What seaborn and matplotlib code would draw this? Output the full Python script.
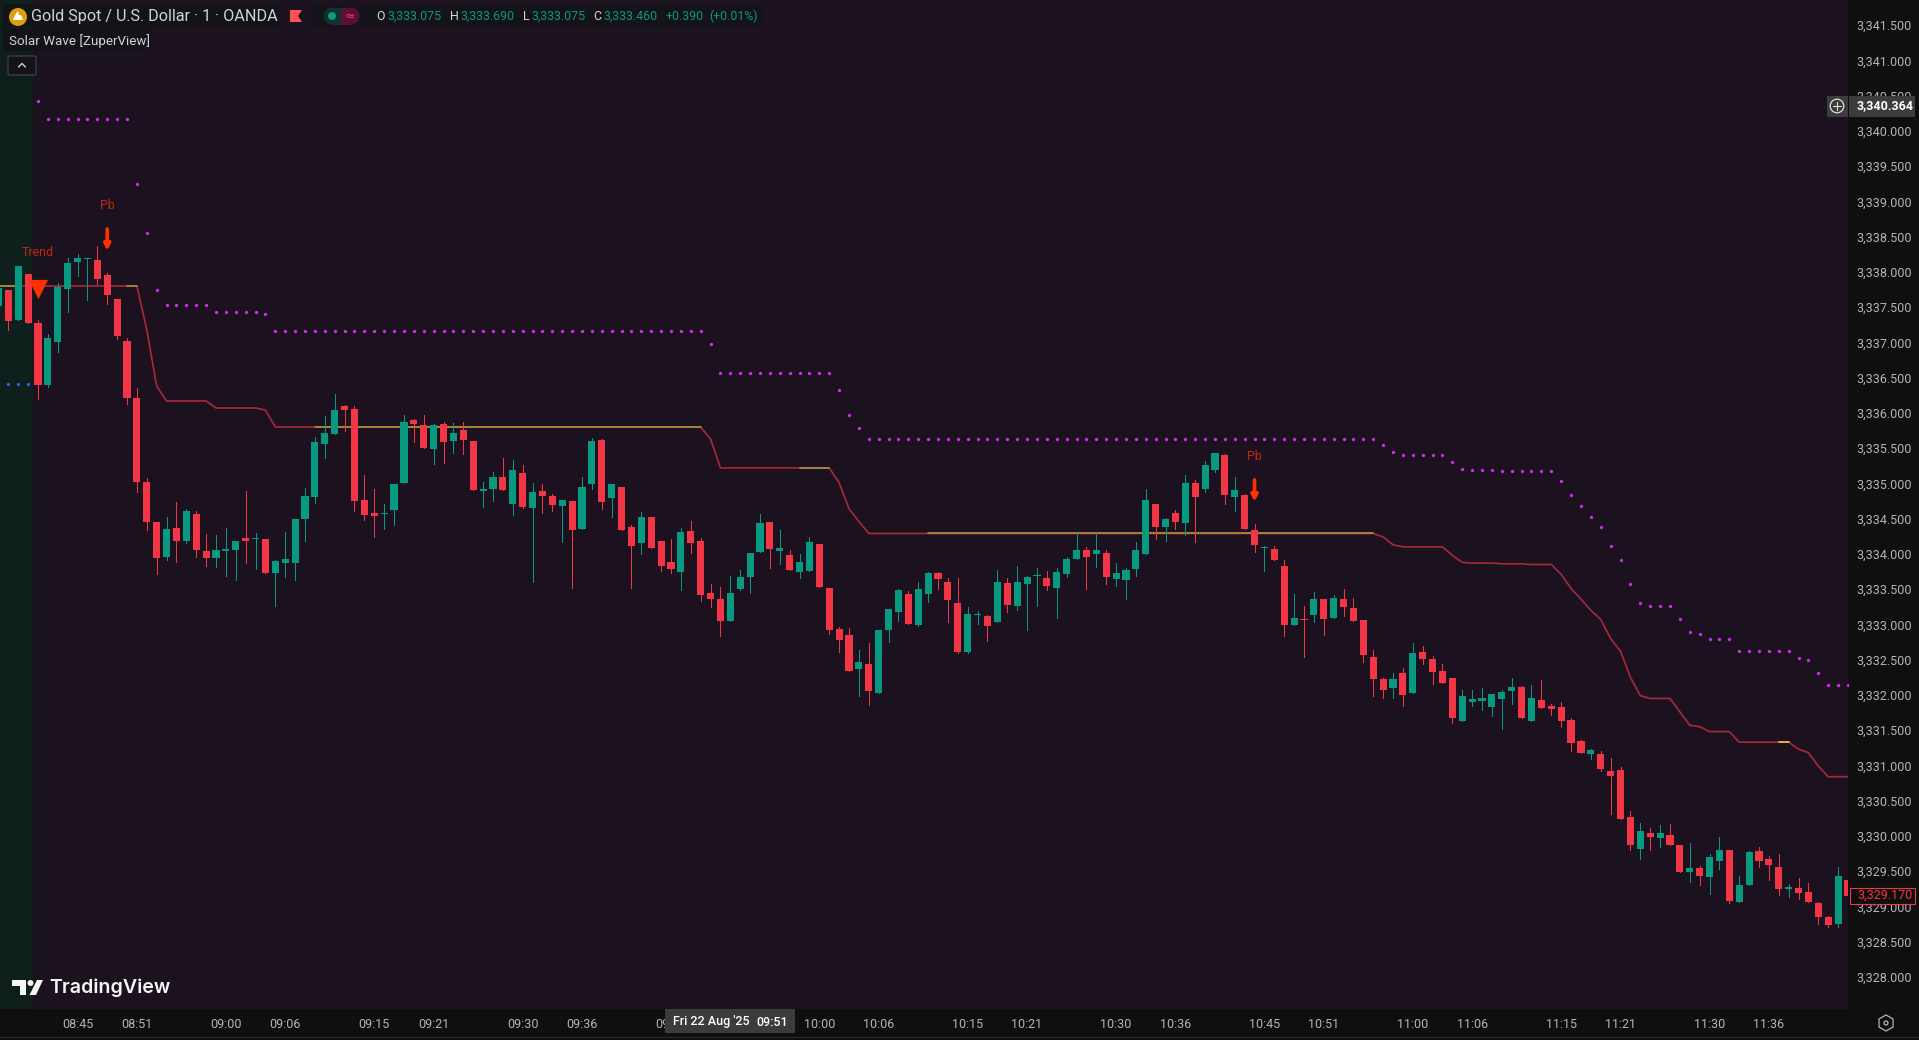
import matplotlib
matplotlib.use("Agg")
import matplotlib.pyplot as plt
from matplotlib.patches import Rectangle, Circle, FancyBboxPatch, Polygon
import seaborn as sns
import pandas as pd

# bars, one per minute, first one is 08:37
START_MINUTE = 8 * 60 + 37

opens = [
    3337.52, 3337.74, 3337.32, 3337.97, 3337.28, 3336.40, 3337.01, 3337.76, 3338.14, 3338.18,
    3338.17, 3337.96, 3337.62, 3337.02, 3336.21, 3335.02, 3334.45, 3333.96, 3334.37, 3334.18,
    3334.57, 3334.04, 3333.94, 3334.04, 3334.06, 3334.23, 3334.21, 3334.21, 3333.73, 3333.87,
    3333.87, 3334.50, 3334.81, 3335.56, 3335.70, 3336.10, 3336.06, 3334.77, 3334.58, 3334.57,
    3334.62, 3335.01, 3335.90, 3335.83, 3335.49, 3335.84, 3335.60, 3335.76, 3335.60, 3334.89,
    3334.92, 3335.09, 3334.71, 3335.15, 3334.65, 3334.89, 3334.82, 3334.68, 3334.75, 3334.35,
    3334.99, 3335.62, 3334.79, 3334.95, 3334.38, 3334.15, 3334.52, 3334.18, 3333.89, 3333.74,
    3334.33, 3334.18, 3333.45, 3333.36, 3333.05, 3333.50, 3333.67, 3334.03, 3334.45, 3334.04,
    3333.98, 3333.74, 3333.76, 3334.14, 3333.52, 3332.93, 3332.85, 3332.37, 3332.44, 3332.03,
    3332.92, 3333.18, 3333.43, 3332.99, 3333.43, 3333.73, 3333.60, 3333.30, 3332.61, 3333.13,
    3333.12, 3333.03, 3333.59, 3333.26, 3333.57, 3333.69, 3333.66, 3333.52, 3333.72, 3333.93,
    3334.06, 3334.00, 3334.01, 3333.64, 3333.63, 3333.79, 3334.00, 3334.71, 3334.38, 3334.58,
    3334.44, 3335.01, 3334.92, 3335.19, 3335.40, 3334.81, 3334.84, 3334.34, 3334.08, 3334.07,
    3333.83, 3332.99, 3333.08, 3333.13, 3333.36, 3333.09, 3333.36, 3333.23, 3333.06, 3332.54,
    3332.23, 3332.10, 3332.31, 3332.03, 3332.61, 3332.51, 3332.34, 3332.24, 3331.63, 3331.90,
    3331.91, 3331.83, 3331.94, 3332.06, 3332.11, 3331.63, 3331.93, 3331.84, 3331.83, 3331.64,
    3331.35, 3331.16, 3331.16, 3330.92, 3330.94, 3330.27, 3329.81, 3330.04, 3329.97, 3330.01,
    3329.87, 3329.49, 3329.54, 3329.42, 3329.64, 3329.80, 3329.06, 3329.30, 3329.79, 3329.67,
    3329.56, 3329.25, 3329.26, 3329.20, 3329.05, 3328.85, 3328.75, 3329.38,
]
highs = [
    3337.77, 3337.74, 3338.08, 3337.97, 3337.32, 3337.12, 3337.84, 3338.20, 3338.25, 3338.20,
    3338.37, 3337.98, 3337.62, 3337.06, 3336.35, 3335.08, 3334.45, 3334.52, 3334.74, 3334.64,
    3334.61, 3334.28, 3334.27, 3334.37, 3334.18, 3334.89, 3334.30, 3334.21, 3333.91, 3334.31,
    3334.50, 3334.94, 3335.66, 3335.96, 3336.27, 3336.11, 3336.10, 3335.12, 3334.92, 3334.71,
    3334.99, 3335.97, 3335.91, 3335.97, 3335.84, 3335.87, 3335.86, 3335.87, 3335.60, 3335.02,
    3335.16, 3335.36, 3335.33, 3335.26, 3335.01, 3334.99, 3334.85, 3334.77, 3334.75, 3335.09,
    3335.64, 3335.63, 3334.99, 3334.95, 3334.41, 3334.59, 3334.52, 3334.18, 3334.21, 3334.37,
    3334.47, 3334.23, 3333.57, 3333.53, 3333.69, 3333.77, 3334.01, 3334.57, 3334.45, 3334.34,
    3334.06, 3334.00, 3334.24, 3334.14, 3333.52, 3332.96, 3332.95, 3332.64, 3332.74, 3332.92,
    3333.22, 3333.50, 3333.47, 3333.60, 3333.74, 3333.74, 3333.66, 3333.66, 3333.25, 3333.19,
    3333.13, 3333.77, 3333.66, 3333.83, 3333.69, 3333.80, 3333.76, 3333.80, 3333.96, 3334.30,
    3334.10, 3334.30, 3334.06, 3333.87, 3333.80, 3334.17, 3334.92, 3334.71, 3334.51, 3334.62,
    3335.12, 3335.05, 3335.32, 3335.43, 3335.42, 3335.09, 3334.85, 3334.42, 3334.11, 3334.11,
    3333.91, 3333.43, 3333.26, 3333.46, 3333.36, 3333.42, 3333.50, 3333.37, 3333.06, 3332.64,
    3332.24, 3332.31, 3332.38, 3332.74, 3332.69, 3332.55, 3332.44, 3332.24, 3332.07, 3332.07,
    3332.10, 3332.01, 3332.07, 3332.24, 3332.13, 3332.14, 3332.21, 3331.87, 3331.90, 3331.67,
    3331.36, 3331.23, 3331.20, 3331.11, 3330.98, 3330.35, 3330.18, 3330.11, 3330.15, 3330.17,
    3329.87, 3329.90, 3329.57, 3329.74, 3329.98, 3329.80, 3329.43, 3329.79, 3329.84, 3329.72,
    3329.74, 3329.32, 3329.40, 3329.33, 3329.06, 3328.86, 3329.56, 3329.38,
]
lows = [
    3337.52, 3337.18, 3337.32, 3337.28, 3336.20, 3336.37, 3336.86, 3337.43, 3337.94, 3337.60,
    3337.83, 3337.55, 3337.05, 3336.13, 3334.88, 3334.34, 3333.72, 3333.91, 3333.89, 3334.16,
    3333.96, 3333.83, 3333.81, 3333.69, 3333.63, 3333.87, 3333.79, 3333.73, 3333.26, 3333.67,
    3333.63, 3334.18, 3334.72, 3335.36, 3335.70, 3335.74, 3334.61, 3334.48, 3334.24, 3334.35,
    3334.41, 3335.01, 3335.59, 3335.50, 3335.28, 3335.29, 3335.43, 3335.42, 3334.91, 3334.67,
    3334.75, 3334.91, 3334.55, 3334.65, 3333.60, 3334.58, 3334.61, 3334.17, 3333.52, 3334.35,
    3334.92, 3334.64, 3334.52, 3334.34, 3333.52, 3334.00, 3334.08, 3333.76, 3333.73, 3333.49,
    3334.01, 3333.33, 3333.25, 3332.84, 3333.05, 3333.49, 3333.45, 3334.03, 3333.80, 3333.86,
    3333.77, 3333.66, 3333.76, 3333.53, 3332.86, 3332.61, 3332.34, 3331.98, 3331.86, 3332.03,
    3332.75, 3333.05, 3333.01, 3332.98, 3333.32, 3333.50, 3333.03, 3332.59, 3332.59, 3333.01,
    3332.77, 3333.03, 3333.18, 3333.21, 3332.92, 3333.26, 3333.49, 3333.09, 3333.67, 3333.93,
    3333.50, 3333.81, 3333.57, 3333.55, 3333.36, 3333.69, 3334.00, 3334.21, 3334.18, 3334.35,
    3334.27, 3334.17, 3334.88, 3335.16, 3334.71, 3334.61, 3334.35, 3334.03, 3333.76, 3333.91,
    3332.84, 3332.99, 3332.54, 3333.03, 3332.85, 3333.09, 3333.12, 3333.05, 3332.47, 3331.98,
    3331.96, 3331.96, 3331.84, 3332.03, 3332.44, 3332.16, 3332.17, 3331.60, 3331.63, 3331.84,
    3331.79, 3331.70, 3331.52, 3331.87, 3331.67, 3331.63, 3331.81, 3331.72, 3331.54, 3331.20,
    3331.18, 3331.09, 3330.92, 3330.31, 3330.24, 3329.80, 3329.67, 3329.80, 3329.84, 3329.87,
    3329.49, 3329.35, 3329.30, 3329.18, 3329.53, 3329.05, 3329.06, 3329.30, 3329.56, 3329.37,
    3329.16, 3329.13, 3329.11, 3329.06, 3328.75, 3328.71, 3328.71, 3329.15,
]
closes = [
    3337.77, 3337.30, 3338.08, 3337.28, 3336.40, 3337.06, 3337.79, 3338.13, 3338.20, 3338.20,
    3337.90, 3337.67, 3337.09, 3336.21, 3335.02, 3334.45, 3333.94, 3334.35, 3334.18, 3334.61,
    3334.06, 3333.94, 3334.06, 3334.07, 3334.18, 3334.18, 3334.23, 3333.73, 3333.90, 3333.93,
    3334.50, 3334.82, 3335.59, 3335.72, 3336.04, 3336.04, 3334.75, 3334.55, 3334.54, 3334.58,
    3334.99, 3335.87, 3335.84, 3335.50, 3335.83, 3335.59, 3335.72, 3335.62, 3334.91, 3334.92,
    3335.09, 3334.91, 3335.19, 3334.67, 3334.88, 3334.82, 3334.69, 3334.77, 3334.34, 3334.95,
    3335.60, 3334.74, 3334.99, 3334.34, 3334.11, 3334.52, 3334.08, 3333.83, 3333.79, 3334.31,
    3334.15, 3333.42, 3333.36, 3333.05, 3333.45, 3333.67, 3334.01, 3334.44, 3334.07, 3334.08,
    3333.77, 3333.89, 3334.17, 3333.53, 3332.92, 3332.78, 3332.34, 3332.47, 3332.06, 3332.92,
    3333.22, 3333.49, 3333.01, 3333.50, 3333.73, 3333.64, 3333.35, 3332.61, 3333.15, 3333.15,
    3332.98, 3333.60, 3333.28, 3333.60, 3333.67, 3333.70, 3333.55, 3333.74, 3333.93, 3334.06,
    3333.96, 3334.06, 3333.67, 3333.73, 3333.77, 3334.06, 3334.77, 3334.38, 3334.50, 3334.45,
    3335.01, 3334.81, 3335.26, 3335.43, 3334.84, 3334.91, 3334.35, 3334.13, 3334.10, 3333.91,
    3332.99, 3333.09, 3333.06, 3333.36, 3333.08, 3333.38, 3333.25, 3333.05, 3332.57, 3332.23,
    3332.07, 3332.23, 3332.00, 3332.60, 3332.51, 3332.32, 3332.17, 3331.67, 3331.98, 3331.94,
    3331.96, 3332.01, 3332.04, 3332.11, 3331.67, 3331.96, 3331.81, 3331.80, 3331.63, 3331.32,
    3331.18, 3331.22, 3330.95, 3330.85, 3330.24, 3329.87, 3330.07, 3329.98, 3330.04, 3329.87,
    3329.49, 3329.54, 3329.43, 3329.70, 3329.80, 3329.08, 3329.30, 3329.77, 3329.64, 3329.59,
    3329.25, 3329.28, 3329.19, 3329.06, 3328.85, 3328.74, 3329.43, 3329.15,
]

# trailing line, one value per bar
trail = [
    3337.80, 3337.80, 3337.80, 3337.80, 3337.80, 3337.80, 3337.80, 3337.80, 3337.80, 3337.80,
    3337.80, 3337.80, 3337.80, 3337.80, 3337.80, 3337.18, 3336.38, 3336.17, 3336.17, 3336.17,
    3336.17, 3336.17, 3336.07, 3336.07, 3336.07, 3336.07, 3336.07, 3336.04, 3335.80, 3335.80,
    3335.80, 3335.80, 3335.80, 3335.80, 3335.80, 3335.80, 3335.80, 3335.80, 3335.80, 3335.80,
    3335.80, 3335.80, 3335.80, 3335.80, 3335.80, 3335.80, 3335.80, 3335.80, 3335.80, 3335.80,
    3335.80, 3335.80, 3335.80, 3335.80, 3335.80, 3335.80, 3335.80, 3335.80, 3335.80, 3335.80,
    3335.80, 3335.80, 3335.80, 3335.80, 3335.80, 3335.80, 3335.80, 3335.80, 3335.80, 3335.80,
    3335.80, 3335.80, 3335.63, 3335.22, 3335.22, 3335.22, 3335.22, 3335.22, 3335.22, 3335.22,
    3335.22, 3335.22, 3335.22, 3335.22, 3335.22, 3335.01, 3334.64, 3334.46, 3334.29, 3334.29,
    3334.29, 3334.29, 3334.29, 3334.29, 3334.29, 3334.29, 3334.29, 3334.29, 3334.29, 3334.29,
    3334.29, 3334.29, 3334.29, 3334.29, 3334.29, 3334.29, 3334.29, 3334.29, 3334.29, 3334.29,
    3334.29, 3334.29, 3334.29, 3334.29, 3334.29, 3334.29, 3334.29, 3334.29, 3334.29, 3334.29,
    3334.29, 3334.29, 3334.29, 3334.29, 3334.29, 3334.29, 3334.29, 3334.29, 3334.29, 3334.29,
    3334.29, 3334.29, 3334.29, 3334.29, 3334.29, 3334.29, 3334.29, 3334.29, 3334.29, 3334.29,
    3334.24, 3334.13, 3334.10, 3334.10, 3334.10, 3334.10, 3334.10, 3333.98, 3333.88, 3333.87,
    3333.87, 3333.87, 3333.86, 3333.86, 3333.86, 3333.85, 3333.85, 3333.85, 3333.71, 3333.51,
    3333.36, 3333.20, 3333.07, 3332.80, 3332.62, 3332.25, 3331.99, 3331.95, 3331.95, 3331.95,
    3331.76, 3331.57, 3331.55, 3331.48, 3331.48, 3331.48, 3331.33, 3331.33, 3331.33, 3331.33,
    3331.33, 3331.33, 3331.23, 3331.18, 3330.99, 3330.84, 3330.84, 3330.84,
]
# bar ranges where the trail turns gold, last one is brighter
gold_ranges = [(0, 2), (13, 14), (32, 71), (81, 84), (94, 139)]
bright_range = (180, 181)

# purple dots start at bar 4
dots_first_bar = 4
dots = [
    3340.42, 3340.17, 3340.17, 3340.17, 3340.17, 3340.17, 3340.17, 3340.17, 3340.17, 3340.17,
    3339.25, 3338.55, 3337.74, 3337.53, 3337.53, 3337.53, 3337.53, 3337.53, 3337.43, 3337.43,
    3337.43, 3337.43, 3337.43, 3337.40, 3337.16, 3337.16, 3337.16, 3337.16, 3337.16, 3337.16,
    3337.16, 3337.16, 3337.16, 3337.16, 3337.16, 3337.16, 3337.16, 3337.16, 3337.16, 3337.16,
    3337.16, 3337.16, 3337.16, 3337.16, 3337.16, 3337.16, 3337.16, 3337.16, 3337.16, 3337.16,
    3337.16, 3337.16, 3337.16, 3337.16, 3337.16, 3337.16, 3337.16, 3337.16, 3337.16, 3337.16,
    3337.16, 3337.16, 3337.16, 3337.16, 3337.16, 3337.16, 3337.16, 3337.16, 3336.98, 3336.57,
    3336.57, 3336.57, 3336.57, 3336.57, 3336.57, 3336.57, 3336.57, 3336.57, 3336.57, 3336.57,
    3336.57, 3336.33, 3335.97, 3335.78, 3335.63, 3335.63, 3335.63, 3335.63, 3335.63, 3335.63,
    3335.63, 3335.63, 3335.63, 3335.63, 3335.63, 3335.63, 3335.63, 3335.63, 3335.63, 3335.63,
    3335.63, 3335.63, 3335.63, 3335.63, 3335.63, 3335.63, 3335.63, 3335.63, 3335.63, 3335.63,
    3335.63, 3335.63, 3335.63, 3335.63, 3335.63, 3335.63, 3335.63, 3335.63, 3335.63, 3335.63,
    3335.63, 3335.63, 3335.63, 3335.63, 3335.63, 3335.63, 3335.63, 3335.63, 3335.63, 3335.63,
    3335.63, 3335.63, 3335.63, 3335.63, 3335.63, 3335.63, 3335.55, 3335.44, 3335.41, 3335.41,
    3335.41, 3335.41, 3335.41, 3335.30, 3335.20, 3335.19, 3335.19, 3335.19, 3335.17, 3335.17,
    3335.17, 3335.17, 3335.17, 3335.17, 3335.03, 3334.83, 3334.68, 3334.52, 3334.38, 3334.11,
    3333.92, 3333.57, 3333.30, 3333.26, 3333.26, 3333.26, 3333.07, 3332.89, 3332.86, 3332.79,
    3332.79, 3332.79, 3332.63, 3332.63, 3332.63, 3332.63, 3332.63, 3332.63, 3332.53, 3332.49,
    3332.31, 3332.14, 3332.14, 3332.14,
]
blue_bars = [1, 2, 3]
blue_dots = [3336.41, 3336.41, 3336.41]

# signals
trend_bar, trend_price, trend_label_price = 4, 3337.76, 3338.27
pb_bars = [11, 127]
pb_label_prices = [3338.94, 3335.38]
pb_tails = [3338.61, 3335.05]
pb_tips = [3338.30, 3334.74]

price_ticks = [
    3328.0, 3328.5, 3329.0, 3329.5, 3330.0, 3330.5, 3331.0, 3331.5, 3332.0, 3332.5,
    3333.0, 3333.5, 3334.0, 3334.5, 3335.0, 3335.5, 3336.0, 3336.5, 3337.0, 3337.5,
    3338.0, 3338.5, 3339.0, 3339.5, 3340.0, 3340.5, 3341.0, 3341.5,
]
time_labels = [
    "08:45", "08:51", "09:00", "09:06", "09:15", "09:21", "09:30", "09:36", "09:45",
    "10:00", "10:06", "10:15", "10:21", "10:30", "10:36", "10:45", "10:51", "11:00",
    "11:06", "11:15", "11:21", "11:30", "11:36",
]
crosshair_price = 3340.364
last_price = 3329.17

BG = "#1c121f"
PANEL = "#0f0f0f"
UP = "#089981"
DOWN = "#f23645"
TEXT = "#b2b5be"
SIGNAL = "#ff3000"
SIGNAL_TEXT = "#c4260c"
FONT = ["Roboto", "DejaVu Sans"]


def bar_of(label):
    hh, mm = label.split(":")
    return int(hh) * 60 + int(mm) - START_MINUTE


sns.set_theme(style="dark")
plt.rcParams["font.family"] = FONT

W, H = 1919, 1040
PLOT_R, PLOT_B = 1848, 1009
fig = plt.figure(figsize=(W / 100, H / 100), dpi=100, facecolor=PANEL)
ax = fig.add_axes([0, (H - PLOT_B) / H, PLOT_R / W, PLOT_B / H], facecolor=BG)

candles = pd.DataFrame({"open": opens, "high": highs, "low": lows, "close": closes})
candles["bar"] = candles.index
candles["color"] = [UP if c >= o else DOWN for o, c in zip(opens, closes)]
candles["bottom"] = candles[["open", "close"]].min(axis=1)
candles["size"] = (candles["close"] - candles["open"]).abs()

# long/short zone on the left
ax.axvspan(-2, 3.5, color="#0e1f1c", lw=0, zorder=0)

# trail line, red under gold
trail_df = pd.DataFrame({"bar": candles["bar"], "trail": trail})
sns.lineplot(data=trail_df, x="bar", y="trail", color="#a8283c", lw=1.2, ax=ax, zorder=2, errorbar=None)
for start, end in gold_ranges:
    part = trail_df[(trail_df["bar"] >= start) & (trail_df["bar"] <= end)]
    sns.lineplot(data=part, x="bar", y="trail", color="#a8933a", lw=1.2, ax=ax, zorder=2.1, errorbar=None)
part = trail_df[(trail_df["bar"] >= bright_range[0]) & (trail_df["bar"] <= bright_range[1])]
sns.lineplot(data=part, x="bar", y="trail", color="#e6d23c", lw=1.2, ax=ax, zorder=2.1, errorbar=None)

# dots
dots_df = pd.DataFrame({"bar": range(dots_first_bar, dots_first_bar + len(dots)), "price": dots})
sns.scatterplot(data=dots_df, x="bar", y="price", color="#d02ef0", s=5.5, marker="o", linewidth=0, ax=ax, zorder=2.5)
sns.scatterplot(x=blue_bars, y=blue_dots, color="#2c62f0", s=5.5, marker="o", linewidth=0, ax=ax, zorder=2.5)

# candles
ax.vlines(candles["bar"], candles["low"], candles["high"], colors=candles["color"], lw=0.68,
          antialiased=False, zorder=3)
ax.bar(candles["bar"], candles["size"], bottom=candles["bottom"], width=0.72, color=candles["color"],
       linewidth=0, antialiased=False, zorder=3.1)

# signals
sns.scatterplot(x=[trend_bar], y=[trend_price], color=SIGNAL, s=190, marker="v", linewidth=0, ax=ax, zorder=4)
ax.text(trend_bar, trend_label_price, "Trend", color=SIGNAL_TEXT, fontsize=8.8, ha="center", va="center", zorder=4)
for bar, label_price, tail, tip in zip(pb_bars, pb_label_prices, pb_tails, pb_tips):
    ax.text(bar, label_price, "Pb", color=SIGNAL_TEXT, fontsize=8.8, ha="center", va="center", zorder=4)
    ax.annotate("", xy=(bar, tip), xytext=(bar, tail), zorder=4,
                arrowprops=dict(arrowstyle="-|>", color=SIGNAL, lw=2.6, mutation_scale=9, shrinkA=0, shrinkB=0))

ax.set_xlim(0.16, 187.0)
ax.set_ylim(3327.545, 3341.857)
ax.set_xlabel("")
ax.set_ylabel("")
ax.grid(False)
for side in ax.spines.values():
    side.set_visible(False)
ax.set_xticks([bar_of(t) for t in time_labels], labels=time_labels)
ax.set_yticks(price_ticks, labels=[f"{p:,.3f}" for p in price_ticks])
ax.yaxis.tick_right()
ax.tick_params(axis="x", length=0, pad=6.5, labelsize=9, colors=TEXT)
ax.tick_params(axis="y", length=0, pad=6, labelsize=9, colors=TEXT)


# chart furniture on top, in screen pixels
ui = fig.add_axes([0, 0, 1, 1], facecolor="none", zorder=10)
ui.set_xlim(0, W)
ui.set_ylim(H, 0)
ui.axis("off")


def box(x0, y0, x1, y1, color, **kw):
    ui.add_patch(Rectangle((x0, y0), x1 - x0, y1 - y0, facecolor=color, linewidth=0, **kw))


def label(x, y, s, color=TEXT, size=9, ha="left", **kw):
    ui.text(x, y, s, color=color, fontsize=size, ha=ha, va="center", **kw)


# header
box(3, 4, 281, 27, "#141318")
box(310, 4, 763, 27, "#141318")
box(3, 28, 150, 51, "#141318")
ui.add_patch(Circle((18, 17), 9, facecolor="#dba00b", linewidth=0))
ui.add_patch(Polygon([(13, 20), (23, 20), (21, 15), (19, 15), (18, 11), (15, 15)], facecolor="white", linewidth=0))
label(31, 16.5, "Gold Spot / U.S. Dollar · 1 · OANDA", color="#d1d4dc", size=11.6)
ui.add_patch(Polygon([(290, 10), (302, 10), (298, 16), (302, 22), (290, 22)], facecolor="#ff5252", linewidth=0))
ui.add_patch(Circle((332, 16), 8.5, facecolor="#123030", linewidth=0))
box(332, 7.5, 341, 24.5, "#123030")
box(341, 7.5, 351, 24.5, "#5a0f35")
ui.add_patch(Circle((351, 16), 8.5, facecolor="#5a0f35", linewidth=0))
ui.add_patch(Circle((332, 16), 4, facecolor=UP, linewidth=0))
label(350, 16, "≈", color="#f23675", size=9, ha="center", family=["DejaVu Sans"])
for x, s, c in [(376, "O", "#d1d4dc"), (387, "3,333.075", UP), (450, "H", "#d1d4dc"), (460, "3,333.690", UP),
                (523, "L", "#d1d4dc"), (531, "3,333.075", UP), (593, "C", "#d1d4dc"), (603, "3,333.460", UP),
                (666, "+0.390", UP), (709, "(+0.01%)", UP)]:
    label(x, 16.5, s, color=c, size=8.9)
label(9, 41, "Solar Wave [ZuperView]", color="#d1d4dc", size=9.6)
ui.add_patch(FancyBboxPatch((8, 56), 28, 19, boxstyle="round,pad=0,rounding_size=2", facecolor="#141318",
                            edgecolor="#434651", linewidth=0.8))
ui.plot([18.5, 22, 25.5], [67, 63.5, 67], color="#d1d4dc", lw=1)

# price axis boxes
box(1827, 96, 1915, 116.5, "#3c3c3c")
ui.plot([1848, 1848], [96, 116.5], color=PANEL, lw=0.7)
ui.add_patch(Circle((1837, 106), 6.8, facecolor="none", edgecolor="#e0e0e0", linewidth=0.9))
ui.plot([1833, 1841], [106, 106], color="#e0e0e0", lw=0.8)
ui.plot([1837, 1837], [102, 110], color="#e0e0e0", lw=0.8)
label(1857, 106, f"{crosshair_price:,.3f}", color="#ffffff", size=9, fontweight="bold")
ui.add_patch(Rectangle((1849.5, 887.5), 65, 16, facecolor=PANEL, edgecolor=DOWN, linewidth=0.8))
label(1857, 895.5, f"{last_price:,.3f}", color=DOWN, size=9)

# time axis crosshair label
box(665, 1009, 795, 1033, "#3c3c3c")
label(673, 1022, "Fri 22 Aug '25", color="#ffffff", size=9, fontweight="medium")
label(756, 1022, "09:51", color="#ffffff", size=9, fontweight="medium")
box(0, 1037, W, 1038, "#2a2a2a")

# settings icon
ui.add_patch(Polygon([(1886, 1015), (1893, 1019), (1893, 1027), (1886, 1031), (1879, 1027), (1879, 1019)],
                     facecolor="none", edgecolor=TEXT, linewidth=0.9))
ui.add_patch(Circle((1886, 1023), 2, facecolor="none", edgecolor=TEXT, linewidth=0.9))

# TradingView logo
box(12, 980, 26, 986, "#f5f5f5")
box(20, 980, 26, 995, "#f5f5f5")
ui.add_patch(Circle((30.5, 983), 3, facecolor="#f5f5f5", linewidth=0))
ui.add_patch(Polygon([(37, 980), (43, 980), (36, 995), (29.5, 995)], facecolor="#f5f5f5", linewidth=0))
label(49, 988, "TradingView", color="#f5f5f5", size=14.1, fontweight="semibold", family=["Inter", "DejaVu Sans"])

fig.savefig("out.png", dpi=100, facecolor=PANEL)
plt.close(fig)
